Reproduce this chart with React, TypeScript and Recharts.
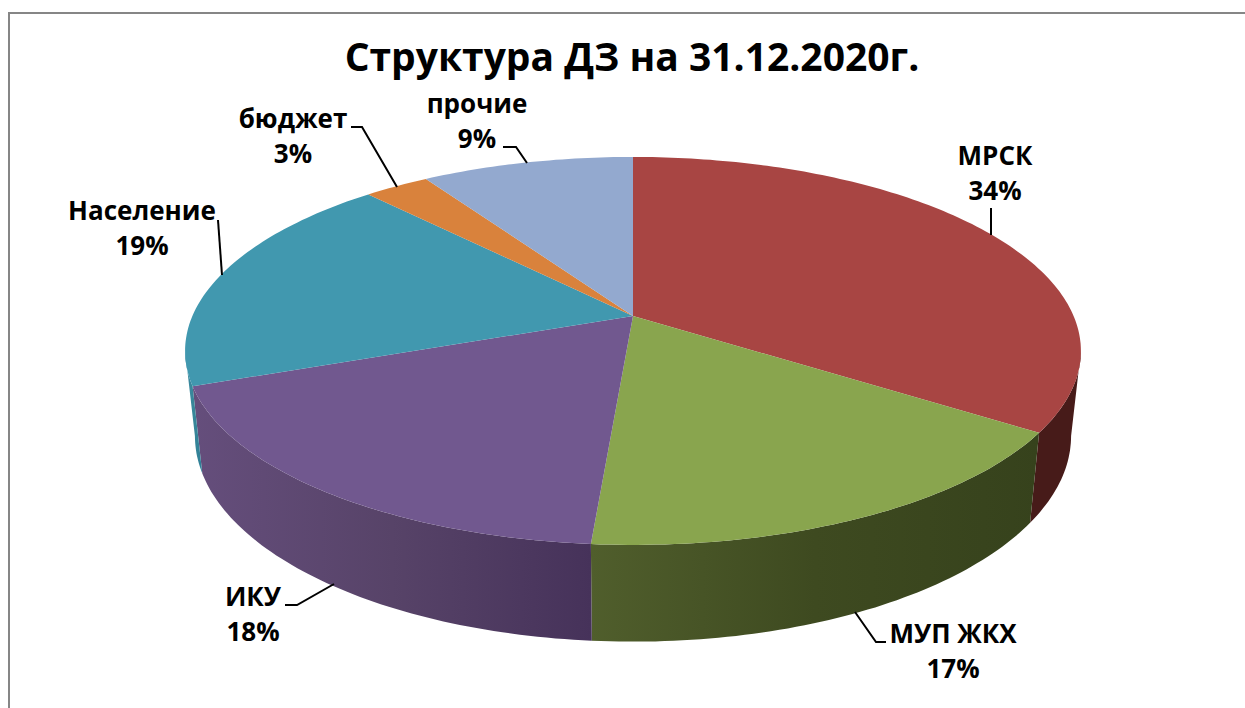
import { PieChart, Pie } from 'recharts'

const categories = ['МРСК', 'МУП ЖКХ', 'ИКУ', 'Население', 'бюджет', 'прочие']
const shares = [34.45, 16.8, 18.05, 18.8, 2.8, 9.1]
const topColors = ['#A84543', '#89A54E', '#71588F', '#4198AF', '#D9823C', '#93A9CF']
const wallColors = [
  ['#471B19', '#471B19', '#471B19'],
  ['#505E2C', '#3E4A20', '#36421C'],
  ['#654E7C', '#574368', '#46325A'],
  ['#3E8CA4', '#378698', '#2F7F98'],
  ['#8A5020', '#8A5020', '#8A5020'],
  ['#5D6B85', '#5D6B85', '#5D6B85'],
]

const chartTitle = 'Структура ДЗ на 31.12.2020г.'
const FONT = '"Open Sans", Lato, sans-serif'

// label anchors and leader polylines, same order as categories
const labelLayout = [
  { x: 995, y: 165, leader: '991,208 991,235' },
  { x: 953, y: 643, leader: '855,612 876,642 886,642' },
  { x: 253, y: 606, leader: '285,605 297,605 334,584' },
  { x: 142, y: 220, leader: '218,220 222,275' },
  { x: 293, y: 128, leader: '351,127 362,127 397,187' },
  { x: 477, y: 113, leader: '503,147 516,147 527,163' },
]

// the pie is tilted, so a polar point goes through a small perspective map
const TILT = 0.426
const PERSP = 0.18
const project = (cx: number, cy: number, a: number, b: number, theta: number) => {
  const r = (theta * Math.PI) / 180
  const den = 1 + PERSP * Math.cos(r)
  return [cx + (a * Math.sin(r)) / den, cy - (b * Math.cos(r)) / den]
}

const arcPoints = (cx: number, cy: number, a: number, b: number, from: number, to: number) => {
  const pts: number[][] = []
  const steps = Math.max(2, Math.ceil(Math.abs(to - from)))
  for (let i = 0; i <= steps; i++) pts.push(project(cx, cy, a, b, from + ((to - from) * i) / steps))
  return pts
}

const toPath = (pts: number[][]) => pts.map((p, i) => `${i ? 'L' : 'M'}${p[0].toFixed(1)},${p[1].toFixed(1)}`).join(' ') + ' Z'

const WALL_FROM = 100.4
const WALL_TO = 259.6

function Slice3D(props: any) {
  const { cx, cy, outerRadius, startAngle, endAngle, fill, name } = props
  const idx = categories.indexOf(name ?? props.payload?.name)
  const a = outerRadius
  const b = a * TILT
  const from = 90 - startAngle
  const to = 90 - endAngle
  const top = [[cx, cy], ...arcPoints(cx, cy, a, b, from, to)]

  const wFrom = Math.max(from, WALL_FROM)
  const wTo = Math.min(to, WALL_TO)
  let wall = null
  if (wTo > wFrom) {
    const upper = arcPoints(cx, cy, a, b, wFrom, wTo)
    const lower = arcPoints(cx, cy + 83, a * 0.978, b * 1.06, wFrom, wTo).reverse()
    const xs = [...upper, ...lower].map(p => p[0])
    const id = `wall-${idx}`
    const [c1, c2, c3] = wallColors[idx]
    // green runs light to dark left to right, purple too, both meet at the front
    wall = (
      <>
        <defs>
          <linearGradient id={id} gradientUnits="userSpaceOnUse" x1={Math.min(...xs)} x2={Math.max(...xs)} y1={0} y2={0}>
            <stop offset="0%" stopColor={c1} />
            <stop offset="50%" stopColor={c2} />
            <stop offset="100%" stopColor={c3} />
          </linearGradient>
        </defs>
        <path d={toPath([...upper, ...lower])} fill={`url(#${id})`} />
      </>
    )
  }
  return (
    <g>
      {wall}
      <path d={toPath(top)} fill={fill} />
    </g>
  )
}

function SliceLabel(props: any) {
  const { index, percent } = props
  const l = labelLayout[index]
  return (
    <g>
      <polyline points={l.leader} fill="none" stroke="#000" strokeWidth={2} />
      <text x={l.x} y={l.y} textAnchor="middle" fontFamily={FONT} fontWeight={700} fontSize={26} fill="#000">
        {categories[index]}
      </text>
      <text x={l.x} y={l.y + 35} textAnchor="middle" fontFamily={FONT} fontWeight={700} fontSize={26} fill="#000">
        {Math.round(percent * 100)}%
      </text>
    </g>
  )
}

const rows = categories.map((name, i) => ({ name, value: shares[i], fill: topColors[i] }))

export default function App() {
  return (
    <div style={{ position: 'absolute', left: 0, top: 0, width: 1245, height: 708, background: '#fff', overflow: 'hidden' }}>
      <div style={{ position: 'absolute', left: 8, top: 12, right: 0, bottom: 0, borderTop: '2px solid #868686', borderLeft: '2px solid #868686' }} />
      <div style={{ position: 'absolute', left: 0, top: 0 }}>
        <PieChart width={1245} height={708} margin={{ top: 0, right: 0, bottom: 0, left: 0 }}>
          <text x={632} y={71} textAnchor="middle" fontFamily={FONT} fontWeight={700} fontSize={39} fill="#000">
            {chartTitle}
          </text>
          <Pie
            data={rows}
            dataKey="value"
            nameKey="name"
            cx={633}
            cy={316}
            innerRadius={0}
            outerRadius={440.6}
            startAngle={90}
            endAngle={-270}
            stroke="none"
            shape={Slice3D}
            label={SliceLabel}
            labelLine={false}
            isAnimationActive={false}
          />
        </PieChart>
      </div>
    </div>
  )
}
